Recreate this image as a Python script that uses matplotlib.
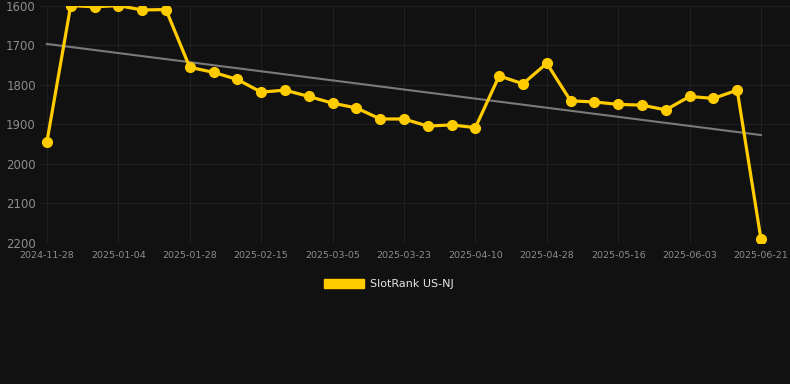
import numpy as np
from matplotlib import pyplot as plt
from matplotlib.patches import Patch

# rank per snapshot (lower number = better, axis is inverted)
ranks = [1944, 1599, 1602, 1599, 1610, 1609, 1755, 1768, 1786, 1818,
         1813, 1829, 1846, 1858, 1886, 1886, 1904, 1901, 1908, 1777,
         1797, 1745, 1840, 1843, 1849, 1851, 1863, 1829, 1834, 1813,
         2191]
tick_labels = ['2024-11-28', '2025-01-04', '2025-01-28', '2025-02-15',
               '2025-03-05', '2025-03-23', '2025-04-10', '2025-04-28',
               '2025-05-16', '2025-06-03', '2025-06-21']
series_name = 'SlotRank US-NJ'

bg = '#111111'
yellow = '#ffcc00'
grid_c = '#1f1f1f'
tick_c = '#8c8c8c'

x = np.arange(len(ranks))
y = np.array(ranks)

# linear trend
k, b = np.polyfit(x, y, 1)
trend = k * x + b

fig = plt.figure(figsize=(7.9, 3.84), dpi=100, facecolor=bg)
ax = fig.add_axes([40 / 790, (384 - 243) / 384, 750 / 790, 237 / 384])
ax.set_facecolor(bg)

ax.plot(x, trend, color='#7a7a7a', lw=1.5, zorder=2)
ax.plot(x, y, '-o', color=yellow, lw=2.3, ms=7, zorder=3)

ax.set_ylim(2200, 1600)
ax.set_yticks([1600, 1700, 1800, 1900, 2000, 2100, 2200])
ax.set_xlim(-0.29, 30 + 29 / 23.8)
ax.set_xticks(x[::3])
ax.set_xticklabels(tick_labels)

ax.grid(True, color=grid_c, lw=0.8)
ax.set_axisbelow(True)
for s in ax.spines.values():
  s.set_visible(False)
ax.tick_params(axis='y', colors=tick_c, labelsize=8.5, length=0, pad=3)
ax.tick_params(axis='x', colors=tick_c, labelsize=6.8, length=0, pad=6)
ax.axhline(2200, color='#2c2c2c', lw=0.8, zorder=1)

handle = Patch(facecolor=yellow, edgecolor=yellow)
fig.legend([handle], [series_name], loc='center', bbox_to_anchor=(389 / 790, 1 - 284 / 384),
           frameon=False, fontsize=8, labelcolor='#e6e6e6',
           handlelength=3.6, handleheight=0.9, handletextpad=0.6)

fig.savefig('out.png', dpi=100, facecolor=bg)
